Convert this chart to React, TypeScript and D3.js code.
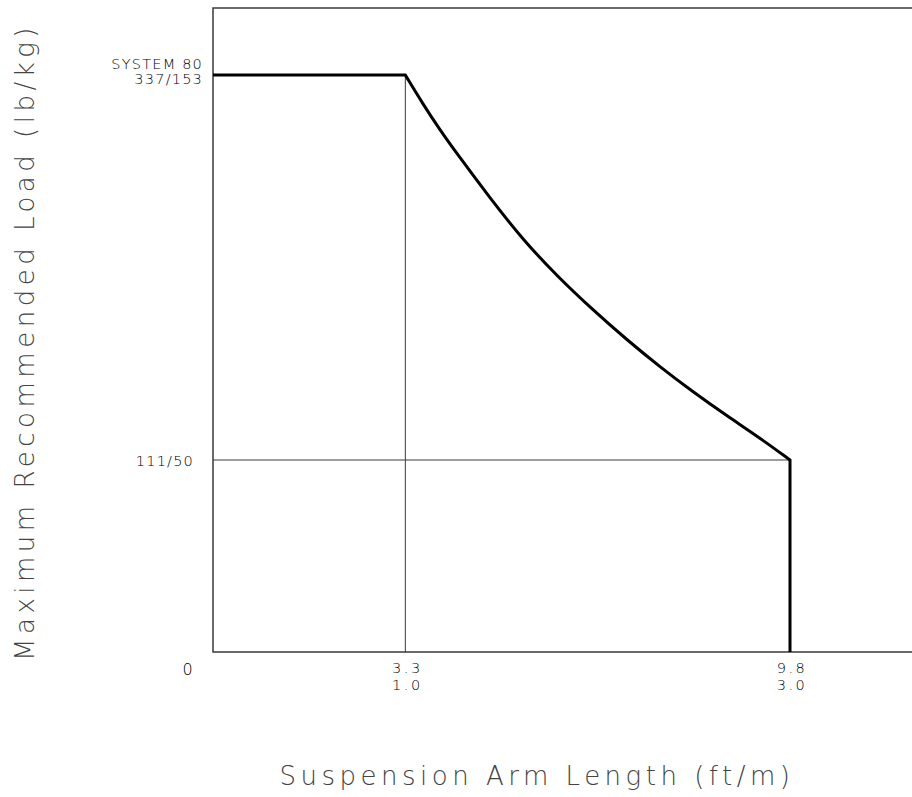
import React from "react";
import * as d3 from "d3";

// curve: arm length (m) vs. max load (kg)
const armLength = [1.0, 1.092, 1.18, 1.269, 1.44, 1.612, 1.789, 1.976, 2.153, 2.324, 2.496, 2.672, 2.844, 3.0];
const maxLoad = [153, 145.2, 138.3, 131.9, 120.1, 108.9, 99.2, 90.1, 82.1, 74.9, 68.2, 61.8, 55.9, 50];

// tick values (metric position) and their dual-unit labels
const xTicks = [1.0, 3.0];
const xTickFt = ["3.3", "9.8"];
const xTickM = ["1.0", "3.0"];
const yTickLabels = ["337/153", "111/50"];
const systemName = "SYSTEM 80";

const W = 912;
const H = 797;
const left = 213;
const right = 912;
const top = 8;
const bottom = 652;

const font = "'DejaVu Sans ExtraLight', 'DejaVu Sans', sans-serif";
const ink = "#3a3a3a";
const textInk = "#444";
const smallInk = "#000";

export default function App() {
  const x = d3.scaleLinear().domain([0, 3]).range([left, 790]);
  // the drawing is not to scale vertically, so use a piecewise scale through the marked loads
  const y = d3.scaleLinear().domain([0, 50, 153]).range([bottom, 460, 75]);

  const curvePts: [number, number][] = armLength.map((d, i) => [d, maxLoad[i]]);
  const smooth = d3
    .line<[number, number]>()
    .x((d) => x(d[0]))
    .y((d) => y(d[1]))
    .curve(d3.curveBasis);

  const x1 = x(1.0);
  const x3 = x(3.0);
  const yTop = y(153);
  const y50 = y(50);
  // flat run, smooth decay, then straight drop to zero
  const loadPath = `M${x(0)},${yTop}H${x1}` + (smooth(curvePts) || "").replace(/^M[^CL]*/, "") + `V${y(0)}`;

  return (
    <svg
      width={W}
      height={H}
      style={{ position: "absolute", left: 0, top: 0, background: "#fff" }}
    >
      {/* frame: left and top, bottom baseline */}
      <path
        d={`M${right},${top}H${left}V${bottom}H${right}`}
        fill="none"
        stroke={ink}
        strokeWidth={1.5}
      />

      {/* reference lines */}
      <line x1={x1} x2={x1} y1={yTop} y2={bottom} stroke={ink} strokeWidth={1} />
      <line x1={left} x2={x3} y1={y50} y2={y50} stroke={ink} strokeWidth={1} />

      {/* load curve */}
      <path d={loadPath} fill="none" stroke="#000" strokeWidth={3} />

      {/* y tick labels */}
      <g fontFamily={font} fontWeight={200} fontSize={14.5} fill={smallInk} letterSpacing={1.2} textAnchor="end">
        <text x={203} y={yTop - 6}>{systemName}</text>
        <text x={203} y={yTop + 9}>{yTickLabels[0]}</text>
        <text x={194} y={y50 + 6}>{yTickLabels[1]}</text>
        <text x={194} y={bottom + 23} fontSize={16}>0</text>
      </g>

      {/* x tick labels */}
      <g fontFamily={font} fontWeight={200} fontSize={14.5} fill={smallInk} letterSpacing={2.5} textAnchor="middle">
        {xTicks.map((t, i) => (
          <g key={t}>
            <text x={x(t) + 2} y={bottom + 21}>{xTickFt[i]}</text>
            <text x={x(t) + 2} y={bottom + 38}>{xTickM[i]}</text>
          </g>
        ))}
      </g>

      {/* axis titles */}
      <text
        x={537}
        y={785}
        fontFamily={font}
        fontSize={26}
        fontWeight={200}
        letterSpacing={4.5}
        fill={textInk}
        textAnchor="middle"
      >
        Suspension Arm Length (ft/m)
      </text>
      <text
        transform={`translate(34, 342) rotate(-90)`}
        fontFamily={font}
        fontSize={26}
        fontWeight={200}
        letterSpacing={4.5}
        fill={textInk}
        textAnchor="middle"
      >
        Maximum Recommended Load (lb/kg)
      </text>
    </svg>
  );
}
